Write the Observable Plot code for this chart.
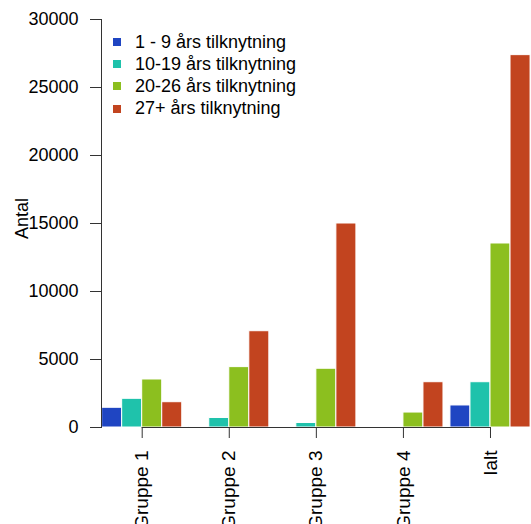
<!DOCTYPE html>
<html>
<head>
<meta charset="utf-8">
<script src="https://cdn.jsdelivr.net/npm/d3@7"></script>
<script src="https://cdn.jsdelivr.net/npm/@observablehq/plot@0.6"></script>
<style>
  html, body { margin: 0; padding: 0; background: #fff; }
  #wrap { position: relative; width: 531px; height: 524px; overflow: hidden; font-family: "Liberation Sans", Arial, Helvetica, sans-serif; }
  #legend { position: absolute; left: 113px; top: 31px; font-size: 18px; color: #000; }
  #legend .row { display: flex; align-items: center; height: 22.2px; }
  #legend .sw { width: 8px; height: 8px; margin-right: 14px; }
</style>
</head>
<body>
<div id="wrap"><div id="legend"></div></div>
<script>
// Categories and series
const groups = ["Gruppe 1", "Gruppe 2", "Gruppe 3", "Gruppe 4", "Ialt"];
const series = ["1 - 9 års tilknytning", "10-19 års tilknytning", "20-26 års tilknytning", "27+ års tilknytning"];
const colors = ["#1f45c2", "#1fc2ab", "#8cbf1f", "#c2441f"];

// Values per series (one per group)
const v1to9   = [1450, 40, 0, 0, 1620];
const v10to19 = [2110, 700, 330, 0, 3330];
const v20to26 = [3530, 4440, 4320, 1100, 13530];
const v27plus = [1860, 7080, 15000, 3330, 27380];

const yTicks = [0, 5000, 10000, 15000, 20000, 25000, 30000];
const yLabel = "Antal";

const seriesValues = [v1to9, v10to19, v20to26, v27plus];
const barW = 0.23;           // width of one bar in group-index units
const groupW = barW * series.length;

const data = [];
groups.forEach((g, i) => {
  series.forEach((s, j) => {
    const x1 = i - groupW / 2 + j * barW;
    data.push({group: g, series: s, value: seriesValues[j][i], x1, x2: x1 + barW});
  });
});

const font = "Liberation Sans, Arial, Helvetica, sans-serif";

const chart = Plot.plot({
  width: 531,
  height: 524,
  marginLeft: 101,
  marginRight: 0,
  marginTop: 19,
  marginBottom: 97,
  style: {fontFamily: font, fontSize: "18px", background: "#fff", color: "#000", overflow: "hidden"},
  x: {type: "linear", domain: [-0.4674, 4.4709]},
  y: {domain: [0, 30000]},
  color: {domain: series, range: colors},
  marks: [
    Plot.rectY(data, {x1: "x1", x2: "x2", y1: 0, y2: "value", fill: "series", stroke: "#fff", strokeWidth: 1}),
    Plot.frame({anchor: "left", stroke: "#333", strokeWidth: 1}),
    Plot.ruleY([0], {x1: 0, x2: groups.length - 1, stroke: "#333", strokeWidth: 1}),
    Plot.axisY({ticks: yTicks, tickSize: 11, tickPadding: 12, tickFormat: d => String(d),
                fontSize: 18, stroke: "#333", label: null}),
    Plot.text([yLabel], {frameAnchor: "left", rotate: -90, dx: -79, dy: -5, fontSize: 18, fill: "#000",
                         textAnchor: "middle", lineAnchor: "middle"}),
    Plot.axisX({ticks: d3.range(groups.length), tickFormat: i => groups[i], tickRotate: -90,
                tickSize: 11, tickPadding: 12, fontSize: 19, stroke: "#333", label: null})
  ]
});

const wrap = document.getElementById("wrap");
wrap.insertBefore(chart, wrap.firstChild);

const legend = document.getElementById("legend");
series.forEach((s, j) => {
  const row = document.createElement("div");
  row.className = "row";
  const sw = document.createElement("span");
  sw.className = "sw";
  sw.style.background = colors[j];
  const t = document.createElement("span");
  t.textContent = s;
  row.appendChild(sw);
  row.appendChild(t);
  legend.appendChild(row);
});
</script>
</body>
</html>
